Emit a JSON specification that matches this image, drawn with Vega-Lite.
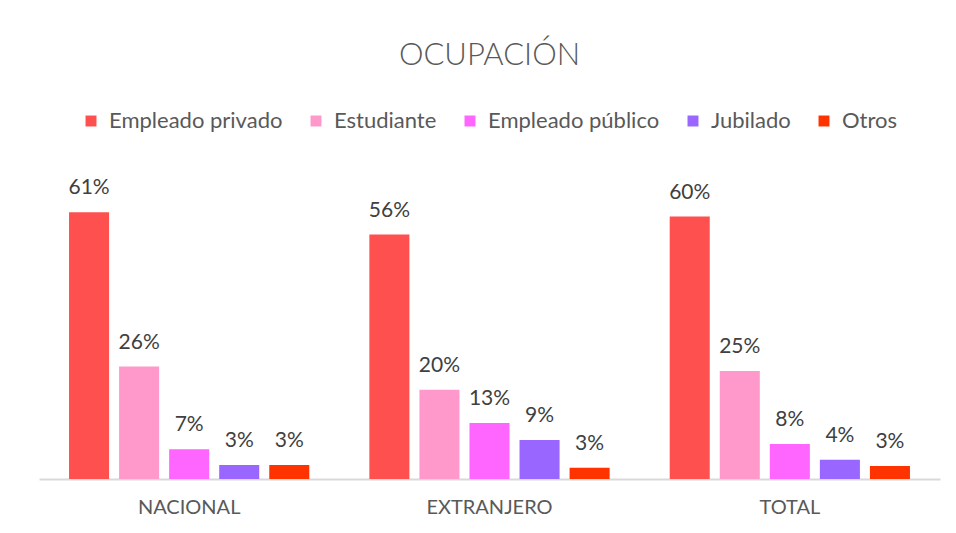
{
  "$schema": "https://vega.github.io/schema/vega-lite/v6.json",
  "width": 901,
  "height": 328,
  "autosize": {"type": "none"},
  "padding": {"left": 39, "top": 151, "right": 16, "bottom": 54},
  "background": "white",
  "title": {
    "text": "OCUPACIÓN",
    "font": "Lato",
    "fontSize": 31,
    "fontWeight": 300,
    "color": "#595959",
    "anchor": "middle",
    "offset": 38
  },
  "config": {
    "view": {"stroke": null},
    "font": "Lato"
  },
  "data": {
    "values": [
      {"grupo": "NACIONAL", "ocupacion": "Empleado privado", "valor": 0.61},
      {"grupo": "NACIONAL", "ocupacion": "Estudiante", "valor": 0.257},
      {"grupo": "NACIONAL", "ocupacion": "Empleado público", "valor": 0.068},
      {"grupo": "NACIONAL", "ocupacion": "Jubilado", "valor": 0.032},
      {"grupo": "NACIONAL", "ocupacion": "Otros", "valor": 0.032},
      {"grupo": "EXTRANJERO", "ocupacion": "Empleado privado", "valor": 0.559},
      {"grupo": "EXTRANJERO", "ocupacion": "Estudiante", "valor": 0.204},
      {"grupo": "EXTRANJERO", "ocupacion": "Empleado público", "valor": 0.128},
      {"grupo": "EXTRANJERO", "ocupacion": "Jubilado", "valor": 0.089},
      {"grupo": "EXTRANJERO", "ocupacion": "Otros", "valor": 0.026},
      {"grupo": "TOTAL", "ocupacion": "Empleado privado", "valor": 0.60},
      {"grupo": "TOTAL", "ocupacion": "Estudiante", "valor": 0.247},
      {"grupo": "TOTAL", "ocupacion": "Empleado público", "valor": 0.08},
      {"grupo": "TOTAL", "ocupacion": "Jubilado", "valor": 0.044},
      {"grupo": "TOTAL", "ocupacion": "Otros", "valor": 0.03}
    ]
  },
  "encoding": {
    "x": {
      "field": "grupo",
      "type": "nominal",
      "sort": ["NACIONAL", "EXTRANJERO", "TOTAL"],
      "scale": {"paddingInner": 0, "paddingOuter": 0},
      "axis": {
        "title": null,
        "labelAngle": 0,
        "labelFont": "Lato",
        "labelFontSize": 20,
        "labelColor": "#595959",
        "labelPadding": 18,
        "ticks": false,
        "domainColor": "#d9d9d9",
        "domainWidth": 2
      }
    },
    "xOffset": {
      "field": "ocupacion",
      "type": "nominal",
      "sort": ["Empleado privado", "Estudiante", "Empleado público", "Jubilado", "Otros"],
      "scale": {"paddingInner": 0.2, "paddingOuter": 0.6}
    },
    "y": {
      "field": "valor",
      "type": "quantitative",
      "scale": {"domain": [0, 0.75]},
      "axis": null
    }
  },
  "layer": [
    {
      "mark": {"type": "bar"},
      "encoding": {
        "color": {
          "field": "ocupacion",
          "type": "nominal",
          "sort": ["Empleado privado", "Estudiante", "Empleado público", "Jubilado", "Otros"],
          "scale": {
            "domain": ["Empleado privado", "Estudiante", "Empleado público", "Jubilado", "Otros"],
            "range": ["#FF5050", "#FF99CC", "#FF66FF", "#9966FF", "#FF3300"]
          },
          "legend": {
            "title": null,
            "orient": "none",
            "direction": "horizontal",
            "legendX": 41,
            "legendY": -41,
            "symbolType": "square",
            "symbolSize": 120,
            "symbolStrokeWidth": 0,
            "labelFont": "Lato",
            "labelFontSize": 22,
            "labelColor": "#595959",
            "labelOffset": 7,
            "columnPadding": 22,
            "labelLimit": 300
          }
        }
      }
    },
    {
      "mark": {
        "type": "text",
        "dy": -18,
        "baseline": "alphabetic",
        "font": "Lato",
        "fontSize": 21,
        "color": "#404040"
      },
      "encoding": {
        "text": {"field": "valor", "type": "quantitative", "format": ".0%"}
      }
    }
  ]
}
